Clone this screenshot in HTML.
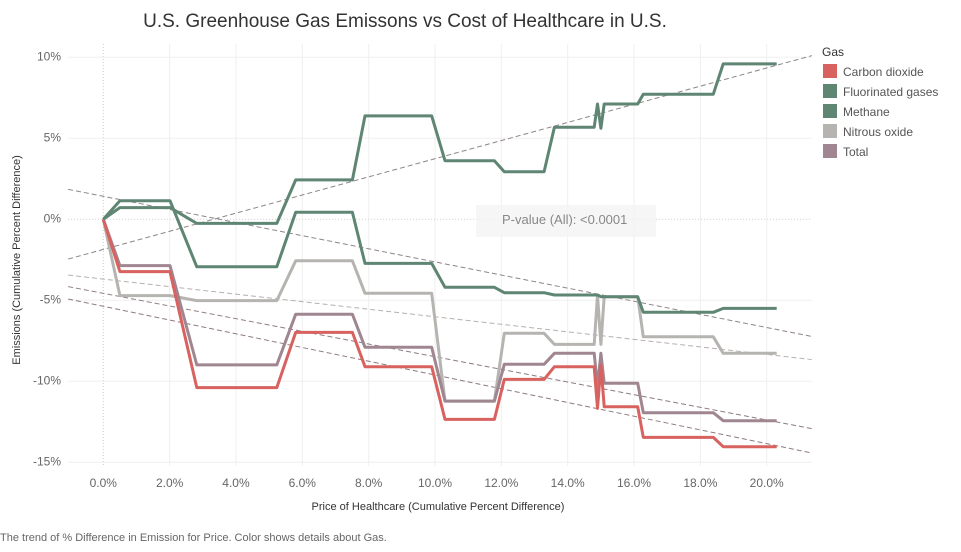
<!DOCTYPE html>
<html><head><meta charset="utf-8">
<style>
body{margin:0;background:#fff;font-family:"Liberation Sans",sans-serif;}
svg text{font-family:"Liberation Sans",sans-serif;}
</style></head>
<body>
<svg id="chart" width="961" height="547" xmlns="http://www.w3.org/2000/svg">
<text x="405" y="27" text-anchor="middle" font-size="19" fill="#333">U.S. Greenhouse Gas Emissons vs Cost of Healthcare in U.S.</text>
<g id="grid"></g>
<g id="trends"></g>
<g id="series"></g>
<g id="axes"></g>
<g>
<rect x="476" y="205" width="180" height="32" fill="#f4f4f4" opacity="0.8"/>
<text x="502" y="224" font-size="13" fill="#888">P-value (All): &lt;0.0001</text>
</g>
<text x="438" y="510" text-anchor="middle" font-size="11" fill="#333">Price of Healthcare (Cumulative Percent Difference)</text>
<text transform="translate(20,260) rotate(-90)" text-anchor="middle" font-size="11" fill="#333">Emissions (Cumulative Percent Difference)</text>
<text x="0" y="541" font-size="11" fill="#666">The trend of % Difference in Emission for Price.  Color shows details about Gas.</text>
<g id="legend">
<text x="822" y="56" font-size="12" fill="#333">Gas</text>
</g>
</svg>
<script>
const priceX = [0,0.5,2.01,2.82,5.23,5.8,7.51,7.89,9.9,10.3,11.79,12.09,13.29,13.6,14.8,14.9,15.0,15.1,16.11,16.28,18.39,18.69,20.3];
const carbonDioxide = [0,-3.23,-3.23,-10.39,-10.39,-6.98,-6.98,-9.1,-9.1,-12.35,-12.35,-9.88,-9.88,-9.1,-9.1,-11.67,-9.0,-11.57,-11.57,-13.46,-13.46,-14.04,-14.04];
const fluorinatedGases = [0,0.72,0.72,-0.25,-0.25,2.43,2.43,6.38,6.38,3.62,3.62,2.94,2.94,5.68,5.68,7.12,5.62,7.12,7.12,7.72,7.72,9.59,9.59];
const methane = [0,1.15,1.15,-2.93,-2.93,0.43,0.43,-2.72,-2.72,-4.2,-4.2,-4.53,-4.53,-4.67,-4.67,-4.67,-4.78,-4.78,-4.78,-5.74,-5.74,-5.5,-5.5];
const nitrousOxide = [0,-4.71,-4.71,-5.02,-5.02,-2.56,-2.56,-4.57,-4.57,-11.22,-11.22,-7.04,-7.04,-7.72,-7.72,-4.67,-7.72,-4.78,-4.78,-7.25,-7.25,-8.27,-8.27];
const total = [0,-2.86,-2.86,-8.99,-8.99,-5.86,-5.86,-7.9,-7.9,-11.22,-11.22,-8.95,-8.95,-8.27,-8.27,-10.33,-8.27,-10.12,-10.12,-11.94,-11.94,-12.43,-12.43];
const gasNames = ["Carbon dioxide","Fluorinated gases","Methane","Nitrous oxide","Total"];
const trendSlopes = [-0.424,0.56,-0.405,-0.2326,-0.391];
const trendIntercepts = [-5.37,-1.86,1.42,-3.69,-4.57];
const xTicks = [0,2,4,6,8,10,12,14,16,18,20];
const yTicks = [10,5,0,-5,-10,-15];

const colors = ["#d8625f","#5f8573","#5f8573","#b5b4b0","#a08690"];
const trendColors = ["#8e7b82","#8e8588","#8e8588","#b8b0b0","#8e7b82"];
const seriesData = [carbonDioxide,fluorinatedGases,methane,nitrousOxide,total];
const NS="http://www.w3.org/2000/svg";
const xMin=-1.06, xMax=21.36;
function xs(p){return 103.3+33.17*p;}
function ys(v){return 219.3-16.2*v;}
function mk(tag,attrs,parent){const e=document.createElementNS(NS,tag);for(const k in attrs)e.setAttribute(k,attrs[k]);parent.appendChild(e);return e;}
const grid=document.getElementById('grid'), axes=document.getElementById('axes');
const L=xs(xMin), R=xs(xMax);
xTicks.forEach(t=>{
  const g=mk('line',{x1:xs(t),x2:xs(t),y1:44,y2:466,stroke:t===0?'#ccc':'#efefef','stroke-width':1,'stroke-dasharray':t===0?'1,2':'none'},grid);
  
  
  const tx=mk('text',{x:xs(t),y:487,'text-anchor':'middle','font-size':12,fill:'#666'},axes);
  tx.textContent=t.toFixed(1)+'%';
  
  
});
yTicks.forEach(t=>{
  const g=mk('line',{x1:L,x2:R,y1:ys(t),y2:ys(t),stroke:t===0?'#ccc':'#efefef','stroke-width':1,'stroke-dasharray':t===0?'1,2':'none'},grid);
  
  
  const tx=mk('text',{x:61,y:ys(t)+3,'text-anchor':'end','font-size':12,fill:'#666'},axes);
  tx.textContent=t+'%';
  
  
});
const trends=document.getElementById('trends');
trendSlopes.forEach((s,i)=>{
  const b=trendIntercepts[i];
  const l=mk('line',{x1:L,y1:ys(b+s*xMin),x2:R,y2:ys(b+s*xMax),stroke:trendColors[i],'stroke-width':1,'stroke-dasharray':'5,3'},trends);
  
  
});
const series=document.getElementById('series');
[3,4,0,2,1].forEach(i=>{
  const d=priceX.map((p,j)=>(j?'L':'M')+xs(p).toFixed(1)+','+ys(seriesData[i][j]).toFixed(1)).join(' ');
  const pth=mk('path',{d:d,fill:'none',stroke:colors[i],'stroke-width':3,'stroke-linejoin':'round'},series);
  
  
});
const legend=document.getElementById('legend');
gasNames.forEach((n,i)=>{
  const y=64+i*20;
  const r=mk('rect',{x:823,y:y,width:14,height:14,fill:colors[i]},legend);
  
  
  const t=mk('text',{x:843,y:y+12,'font-size':12,fill:'#555'},legend);
  t.textContent=n;
  
  
});
</script>
</body></html>
